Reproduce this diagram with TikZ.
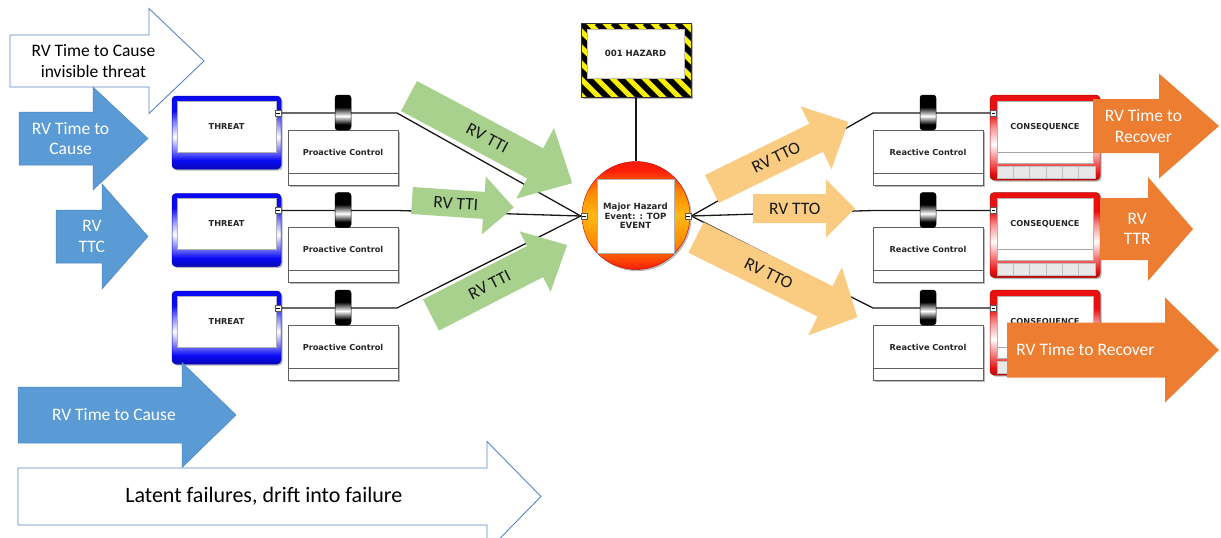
\documentclass[tikz,border=0pt]{standalone}
\usepackage{fontspec}
\setmainfont{Carlito}
\newfontfamily\tahoma{DejaVu Sans}
\usetikzlibrary{shadows,backgrounds}

\definecolor{tblue}{RGB}{10,10,245}
\definecolor{cred}{RGB}{235,15,15}
\colorlet{tbA}{tblue!75!black}
\colorlet{tbB}{tblue!65!white}
\colorlet{tbC}{tblue!50!white}
\colorlet{crA}{cred!75!black}
\colorlet{crB}{cred!60!white}
\colorlet{crC}{cred!45!white}
\definecolor{evR}{RGB}{250,30,10}
\definecolor{evO}{RGB}{255,135,0}
\definecolor{evY}{RGB}{255,185,20}
\definecolor{abluefill}{HTML}{5B9BD5}
\definecolor{abluedraw}{HTML}{4A86C0}
\definecolor{awhitedraw}{HTML}{5B85C9}
\definecolor{agreen}{HTML}{A9D18E}
\definecolor{atan}{HTML}{F9CC82}
\definecolor{aorange}{HTML}{ED7D31}
\definecolor{hzyellow}{RGB}{250,240,0}

\pgfdeclareverticalshading{threatshade}{100bp}{color(0bp)=(tbA); color(25bp)=(tbA); color(31bp)=(tblue); color(36bp)=(tbB); color(47bp)=(white); color(57bp)=(tbC); color(65bp)=(tblue); color(100bp)=(tblue)}
\pgfdeclareverticalshading{conshade}{100bp}{color(0bp)=(crA); color(25bp)=(crA); color(29bp)=(cred); color(36bp)=(crB); color(46bp)=(white); color(56bp)=(crC); color(64bp)=(cred); color(100bp)=(cred)}
\pgfdeclareverticalshading{evshade}{100bp}{color(0bp)=(evR); color(25bp)=(evR); color(37bp)=(evO); color(50bp)=(evY); color(61bp)=(evO); color(71bp)=(evR); color(100bp)=(evR)}
\pgfdeclareverticalshading{barshade}{100bp}{color(0bp)=(black); color(25bp)=(black); color(33bp)=(black); color(45bp)=(white); color(58bp)=(black); color(100bp)=(black)}

\newcommand{\arrowfont}{\fontsize{17.5}{20.5}\selectfont}
\newcommand{\latentfont}{\fontsize{22}{26}\selectfont}
\newcommand{\boxfont}{\tahoma\bfseries\fontsize{8.2}{9.5}\selectfont}
\newcommand{\evfont}{\tahoma\bfseries\fontsize{8.6}{9.6}\selectfont}

\pgfkeys{/barrow/.cd, len/.store in=\bLen, bw/.store in=\bBw, hw/.store in=\bHw, hl/.store in=\bHl, tp/.store in=\bTp}
\newcommand{\blockarrow}[6][]{%
  \pgfkeys{/barrow/.cd, len=100, bw=15, hw=30, hl=30, tp=0.5, #1}%
  \begin{scope}[shift={(#4)}, rotate=#5]
    \path[#2] (0,-\bBw) -- ({\bLen-\bHl},-\bBw) -- ({\bLen-\bHl},-\bHw) -- (\bLen,0)
      -- ({\bLen-\bHl},\bHw) -- ({\bLen-\bHl},\bBw) -- (0,\bBw) -- cycle;
    \node[#2 text, transform shape] (#3) at ({\bTp*\bLen},0) {#6};
  \end{scope}}

\tikzset{
  myshadow/.style={drop shadow={shadow xshift=1.6pt, shadow yshift=-1.6pt, fill=black, opacity=0.28}},
  conn/.style={draw=black!90, line width=1.3pt},
  boxtext/.style={font=\boxfont, text=black!85, align=center, inner sep=0},
  threatbox/.style={rectangle, rounded corners=4pt, minimum width=109pt, minimum height=73pt,
    inner sep=0, shading=threatshade, draw=tbA, line width=0.5pt, myshadow},
  threatin/.style={rectangle, fill=white, draw=gray!60, line width=0.4pt, minimum width=99pt,
    minimum height=51pt, inner sep=0, font=\boxfont, text=black!85},
  ctrlbox/.style={rectangle, fill=white, draw=gray!75!black, line width=0.7pt, minimum width=110pt,
    minimum height=55pt, inner sep=0, myshadow,
    path picture={\draw[gray!75!black, line width=0.6pt] ([yshift=12pt]path picture bounding box.south west) -- ([yshift=12pt]path picture bounding box.south east);}},
  barrier/.style={rectangle, rounded corners=3pt, minimum width=16pt, minimum height=35pt,
    inner sep=0, shading=barshade, draw=black, line width=0.5pt},
  port/.style={rectangle, minimum size=6pt, inner sep=0, fill=white, draw=gray!70!black, line width=0.5pt,
    path picture={\draw[black, line width=0.5pt] ([xshift=-1.6pt]path picture bounding box.center) -- ([xshift=1.6pt]path picture bounding box.center);}},
  consbox/.style={rectangle, rounded corners=4pt, minimum width=110pt, minimum height=85pt,
    inner sep=0, shading=conshade, draw=crA, line width=0.5pt, myshadow},
  consin/.style={rectangle, fill=white, draw=gray!60, line width=0.4pt, minimum width=96pt,
    minimum height=62pt, inner sep=0,
    path picture={\draw[gray!70, line width=0.5pt] ([yshift=11pt]path picture bounding box.south west) -- ([yshift=11pt]path picture bounding box.south east);}},
  cell/.style={rectangle, minimum width=16.33pt, minimum height=12pt, inner sep=0, fill=gray!18, draw=gray!50, line width=0.4pt},
  evcircle/.style={circle, minimum size=108pt, inner sep=0, shading=evshade, draw=red!75!black, line width=0.4pt, myshadow},
  evbox/.style={rectangle, fill=white, draw=gray!60, line width=0.5pt, minimum width=77pt, minimum height=74pt,
    inner sep=0, font=\evfont, text=black!85, align=center},
  hazframe/.style={rectangle, minimum width=110pt, minimum height=74pt, inner sep=0, fill=hzyellow,
    draw=black!80, line width=0.6pt, myshadow,
    path picture={\foreach \i in {-6,...,8}{\draw[black, line width=5.7pt] ([xshift={\i*16pt}]path picture bounding box.north west) -- ++(85pt,-85pt);}}},
  hazin/.style={rectangle, fill=white, draw=gray!50, line width=0.4pt, minimum width=97pt, minimum height=49pt,
    inner sep=0, font=\evfont, text=black!85},
  whitearrow/.style={fill=white, draw=awhitedraw, line width=0.9pt},
  whitearrow text/.style={text=black, font=\arrowfont, align=center, inner sep=0},
  latentarrow/.style={fill=white, draw=awhitedraw, line width=0.9pt},
  latentarrow text/.style={text=black, font=\latentfont, align=center, inner sep=0},
  bluearrow/.style={fill=abluefill, draw=abluedraw, line width=0.5pt},
  bluearrow text/.style={text=white, font=\arrowfont, align=center, inner sep=0},
  greenarrow/.style={fill=agreen},
  greenarrow text/.style={text=black!90, font=\arrowfont, align=center, inner sep=0},
  tanarrow/.style={fill=atan},
  tanarrow text/.style={text=black!90, font=\arrowfont, align=center, inner sep=0},
  orangearrow/.style={fill=aorange},
  orangearrow text/.style={text=white, font=\arrowfont, align=center, inner sep=0},
}

\begin{document}
\begin{tikzpicture}[x=1pt,y=-1pt]
\useasboundingbox (0,0) rectangle (1221,538);

% hazard
\node[hazframe] (hazframe) at (636,60) {};
\node[hazin] (hazard) at (635.5,53.5) {001 HAZARD};

% top event
\node[evcircle] (topev) at (636,215.5) {};
\node[evbox] (topbox) at (635.5,216) {Major Hazard\\Event: : TOP\\EVENT};
\node[port] (evl) at (584,216) {};
\node[port] (evr) at (688,216) {};

\foreach \k/\dy in {1/0,2/97.5,3/195}{
  % left side
  \node[threatbox] (threat\k) at (226.5,{132.5+\dy}) {};
  \node[threatin] (threatin\k) at (226.5,{126.5+\dy}) {THREAT};
  \node[port] (tport\k) at (278,{113+\dy}) {};
  \coordinate (kl\k) at (397,{113+\dy});
  \node[ctrlbox] (ctrl\k) at (343,{157.5+\dy}) {};
  \node[boxtext] (ctrlt\k) at (343,{152+\dy}) {Proactive Control};
  \node[barrier] (bar\k) at (343,{112.5+\dy}) {};
  % right side
  \node[consbox] (cons\k) at (1045,{137.5+\dy}) {};
  \node[consin] (consin\k) at (1045,{132+\dy}) {};
  \node[boxtext] (const\k) at (1045,{127+\dy}) {CONSEQUENCE};
  \foreach \i in {1,...,6}{\node[cell] (cell\k\i) at ({997+16.33*(\i-0.5)},{172+\dy}) {};}
  \node[port] (cport\k) at (993.5,{113+\dy}) {};
  \coordinate (kr\k) at (873,{113+\dy});
  \node[ctrlbox] (rctrl\k) at (928,{157.5+\dy}) {};
  \node[boxtext] (rctrlt\k) at (928,{152+\dy}) {Reactive Control};
  \node[barrier] (rbar\k) at (928,{112.5+\dy}) {};
}

\begin{scope}[on background layer]
  \fill[white] (0,0) rectangle (1221,538);
  \draw[conn] (hazframe.south) -- (topev.north);
  \foreach \k in {1,2,3}{
    \draw[conn] (tport\k.east) -- (kl\k) -- (evl.west);
    \draw[conn] (evr.east) -- (kr\k) -- (cport\k.west);
  }
\end{scope}

% left block arrows
\blockarrow[len=194,bw=26,hw=52.5,hl=55,tp=0.43]{whitearrow}{aw1}{10,61}{0}{RV Time to Cause\\invisible threat}
\blockarrow[len=129,bw=26.5,hw=51.5,hl=55,tp=0.40]{bluearrow}{ab1}{19,138.5}{0}{RV Time to\\Cause}
\blockarrow[len=92,bw=26.5,hw=52.5,hl=46,tp=0.39]{bluearrow}{ab2}{56,236.5}{0}{RV\\TTC}
\blockarrow[len=523,bw=28.5,hw=55,hl=54,tp=0.47]{latentarrow}{aw2}{18,496.5}{0}{Latent failures, drift into failure}
\blockarrow[len=218,bw=28,hw=52.5,hl=54,tp=0.44]{bluearrow}{ab3}{18,415}{0}{RV Time to Cause}

% green arrows
\blockarrow[len=185,bw=17,hw=40,hl=42,tp=0.48]{greenarrow}{ag1}{409,96}{-28.1}{RV TTI}
\blockarrow[len=102,bw=13.5,hw=29,hl=30,tp=0.43]{greenarrow}{ag2}{412,200.5}{-3.9}{RV TTI}
\blockarrow[len=153,bw=17.5,hw=34,hl=36,tp=0.43]{greenarrow}{ag3}{431,315}{27.2}{RV TTI}

% tan arrows
\blockarrow[len=152,bw=15.6,hw=35,hl=36,tp=0.47]{tanarrow}{at1}{712,189}{26.2}{RV TTO}
\blockarrow[len=102,bw=14.5,hw=29,hl=29,tp=0.41]{tanarrow}{at2}{753,208.5}{0}{RV TTO}
\blockarrow[len=180,bw=17,hw=38,hl=36,tp=0.45]{tanarrow}{at3}{696,237.5}{-26.3}{RV TTO}

% orange arrows
\blockarrow[len=126,bw=27,hw=52.5,hl=60,tp=0.40]{orangearrow}{ao1}{1093,126}{0}{RV Time to\\Recover}
\blockarrow[len=93,bw=31,hw=52,hl=45,tp=0.40]{orangearrow}{ao2}{1100,229}{0}{RV\\TTR}
\blockarrow[len=212,bw=27.5,hw=52.5,hl=54,tp=0.37]{orangearrow}{ao3}{1007,350}{0}{RV Time to Recover}
\end{tikzpicture}
\end{document}
